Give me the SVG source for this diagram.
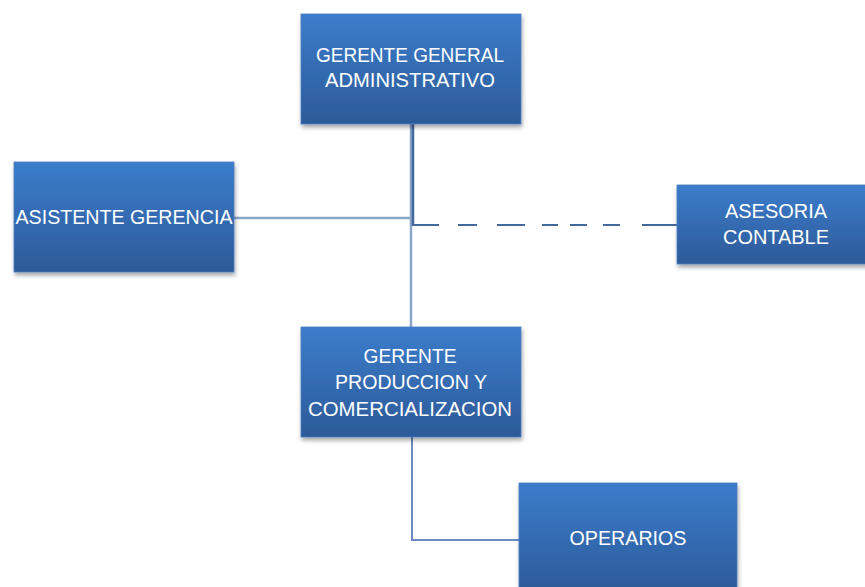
<svg xmlns="http://www.w3.org/2000/svg" width="865" height="587" viewBox="0 0 865 587">
<defs>
<linearGradient id="g" x1="0" y1="0" x2="0" y2="1">
<stop offset="0" stop-color="#3c7dcc"/>
<stop offset="1" stop-color="#2c5a98"/>
</linearGradient>
<filter id="sh" x="-10%" y="-10%" width="125%" height="130%">
<feDropShadow dx="1" dy="3" stdDeviation="2" flood-color="#000" flood-opacity="0.35"/>
</filter>
</defs>
<style>
.box{fill:url(#g);stroke:#4a7cc0;stroke-width:0.8;filter:url(#sh)}
.t{font-family:"Liberation Sans",Arial,sans-serif;font-size:20px;fill:#ffffff;text-anchor:middle}
.c{fill:none;stroke-linecap:butt}
</style>
<rect width="865" height="587" fill="#ffffff"/>
<g id="connectors">
<path class="c" d="M411 124 V327" stroke="#8aa6ca" stroke-width="2.5"/>
<path class="c" d="M234 218 H411" stroke="#8aa6ca" stroke-width="2.5"/>
<path class="c" d="M413 124 V226" stroke="#44699b" stroke-width="2.5"/>
<path class="c" d="M412 225 H677" stroke="#44699b" stroke-width="2" stroke-dasharray="27 19 19 20 28 17 16 12 17 16 17 22 35"/>
<path class="c" d="M412 437 V540 H519" stroke="#6a8cbf" stroke-width="2"/>
</g>
<g id="gerente-general">
<rect class="box" x="301" y="14" width="220" height="110"/>
<text class="t" x="410" y="62" textLength="188" lengthAdjust="spacingAndGlyphs">GERENTE GENERAL</text>
<text class="t" x="410" y="87" textLength="170" lengthAdjust="spacingAndGlyphs">ADMINISTRATIVO</text>
</g>
<g id="asistente">
<rect class="box" x="14" y="162" width="220" height="110"/>
<text class="t" x="124" y="224" textLength="217" lengthAdjust="spacingAndGlyphs">ASISTENTE GERENCIA</text>
</g>
<g id="asesoria">
<rect class="box" x="677" y="185" width="192" height="79"/>
<text class="t" x="776" y="218" textLength="102" lengthAdjust="spacingAndGlyphs">ASESORIA</text>
<text class="t" x="776" y="244" textLength="106" lengthAdjust="spacingAndGlyphs">CONTABLE</text>
</g>
<g id="gerente-produccion">
<rect class="box" x="301" y="327" width="220" height="110"/>
<text class="t" x="410" y="363" textLength="93" lengthAdjust="spacingAndGlyphs">GERENTE</text>
<text class="t" x="411" y="389" textLength="152" lengthAdjust="spacingAndGlyphs">PRODUCCION Y</text>
<text class="t" x="410" y="416" textLength="204" lengthAdjust="spacingAndGlyphs">COMERCIALIZACION</text>
</g>
<g id="operarios">
<rect class="box" x="519" y="483" width="218" height="110"/>
<text class="t" x="628" y="545" textLength="117" lengthAdjust="spacingAndGlyphs">OPERARIOS</text>
</g>
</svg>
